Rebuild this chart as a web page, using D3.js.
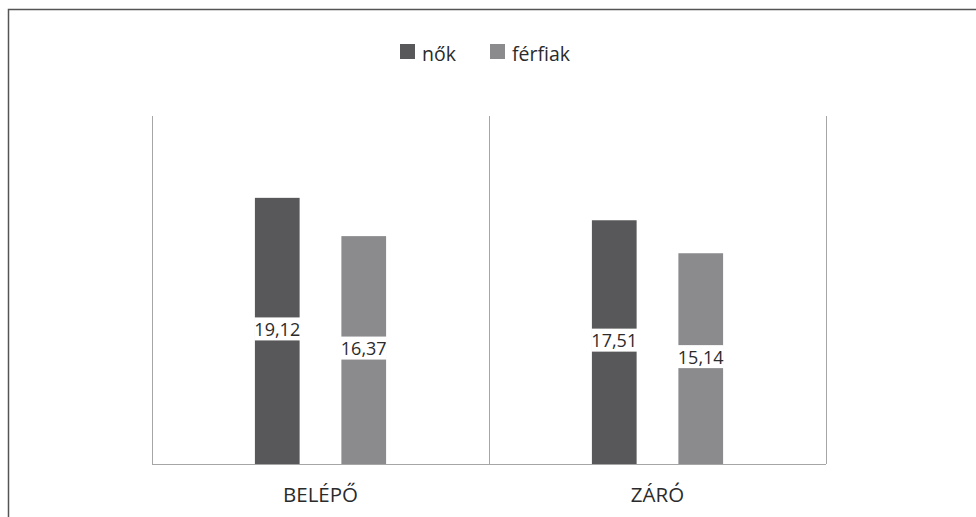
<!DOCTYPE html>
<html>
<head>
<meta charset="utf-8">
<script src="https://cdn.jsdelivr.net/npm/d3@7"></script>
<style>
  html, body { margin: 0; padding: 0; background: #fff; }
  svg { display: block; }
  text { font-family: "Open Sans", "Noto Sans", sans-serif; fill: #2b2b2b; font-variant-ligatures: none; }
</style>
</head>
<body>
<svg id="chart" width="976" height="517"></svg>
<script>
const categories = ["BELÉPŐ", "ZÁRÓ"];
const series = ["nők", "férfiak"];
const nokValues = [19.12, 17.51];
const ferfiakValues = [16.37, 15.14];
const labelTexts = [["19,12", "17,51"], ["16,37", "15,14"]];
const colors = ["#58585a", "#8b8b8e"];

const svg = d3.select("#chart");
const W = 976, H = 517;
const plot = { left: 152, right: 826, top: 116, bottom: 464 };
const FONT = '"Open Sans", "Noto Sans", sans-serif';

// outer frame (top and left edges visible)
svg.append("path")
  .attr("d", `M8.5,${H} L8.5,9.5 L${W},9.5`)
  .attr("fill", "none").attr("stroke", "#555").attr("stroke-width", 1.5);

const x0 = d3.scaleBand().domain(categories).range([plot.left, plot.right]).padding(0);
const x1 = d3.scaleBand().domain(series).range([0, x0.bandwidth()])
  .paddingInner(0.483).paddingOuter(1.19);
const y = d3.scaleLinear().domain([0, 25]).range([plot.bottom, plot.top]);

const valuesBySeries = [nokValues, ferfiakValues];

// vertical separators at band edges
const edges = categories.map(c => x0(c)).concat([plot.right]);
svg.append("g").selectAll("line").data(edges).join("line")
  .attr("x1", d => Math.round(d) + 0.5).attr("x2", d => Math.round(d) + 0.5)
  .attr("y1", plot.top).attr("y2", plot.bottom)
  .attr("stroke", "#a6a6a6").attr("stroke-width", 1);

// bottom axis
const xAxis = d3.axisBottom(x0).tickSize(0).tickPadding(23);
const gx = svg.append("g").attr("transform", `translate(0,${plot.bottom + 0.5})`).call(xAxis);
gx.select(".domain").attr("stroke", "#a6a6a6").attr("d", `M${plot.left},0H${plot.right}`);
gx.selectAll("text").style("font-size", "20.5px").attr("fill", "#2b2b2b")
  .style("font-family", FONT);

// bars
const data = [];
categories.forEach((c, ci) => {
  series.forEach((s, si) => {
    data.push({ c, s, si, v: valuesBySeries[si][ci], label: labelTexts[si][ci] });
  });
});

const bars = svg.append("g");
bars.selectAll("rect").data(data).join("rect")
  .attr("x", d => x0(d.c) + x1(d.s))
  .attr("y", d => y(d.v))
  .attr("width", x1.bandwidth())
  .attr("height", d => y(0) - y(d.v))
  .attr("fill", d => colors[d.si]);

// labels with white boxes
const lab = svg.append("g").selectAll("g").data(data).join("g")
  .attr("transform", d => `translate(${x0(d.c) + x1(d.s) + x1.bandwidth() / 2},${(y(d.v) + y(0)) / 2 - 1.5})`);
lab.append("rect")
  .attr("x", -23).attr("y", -12).attr("width", 46).attr("height", 23)
  .attr("fill", "#fff");
lab.append("text")
  .attr("text-anchor", "middle").attr("dy", "0.36em")
  .style("font-size", "18px")
  .style("font-family", FONT)
  .text(d => d.label);

// legend
const legendItems = [{ s: "nők", x: 400 }, { s: "férfiak", x: 490 }];
const lg = svg.append("g").selectAll("g").data(legendItems).join("g")
  .attr("transform", d => `translate(${d.x},44)`);
lg.append("rect").attr("width", 15).attr("height", 15)
  .attr("fill", (d, i) => colors[i]);
lg.append("text").attr("x", 22).attr("y", 16.5)
  .style("font-size", "19.5px").style("font-family", FONT).text(d => d.s);
</script>
</body>
</html>
